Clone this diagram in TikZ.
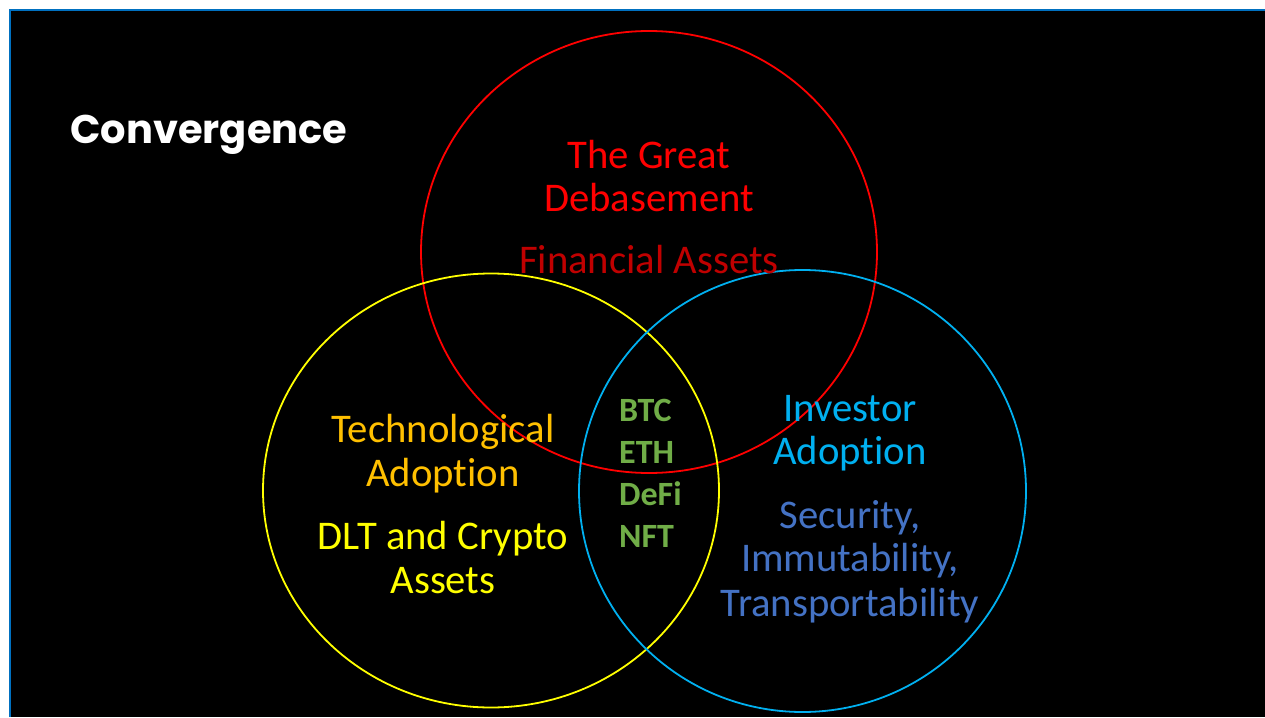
\documentclass[tikz,border=0pt]{standalone}
\usepackage{fontspec}
\setmainfont{Carlito}[Ligatures=NoCommon]
\newfontfamily\titlefont{Poppins}
\definecolor{frameblue}{RGB}{0,112,192}
\definecolor{cred}{RGB}{255,0,0}
\definecolor{cdarkred}{RGB}{192,0,0}
\definecolor{cyel}{RGB}{255,255,0}
\definecolor{corange}{RGB}{255,192,0}
\definecolor{cblue}{RGB}{0,176,240}
\definecolor{cslate}{RGB}{68,114,196}
\definecolor{cgreen}{RGB}{112,173,71}
\tikzset{
  ring/.style={line width=1.8pt},
  lbl/.style={anchor=base,inner sep=0pt,font=\fontsize{40.7}{44}\selectfont},
  coin/.style={anchor=base west,inner sep=0pt,font=\fontsize{34}{40}\selectfont\bfseries,text=cgreen},
}
\begin{document}
\begin{tikzpicture}[x=1pt,y=-1pt]
\useasboundingbox (0,0) rectangle (1265,717);
\fill[black] (10,10) rectangle (1265,717);
\draw[frameblue,line width=1.5pt] (10,717) -- (10,10) -- (1265,10);
% circles
\draw[ring,cred] (649,252) ellipse [x radius=228, y radius=221];
\draw[ring,cyel] (491,490.5) ellipse [x radius=228, y radius=217];
\draw[ring,cblue] (802.5,491) ellipse [x radius=223.5, y radius=221];
% title
\node[anchor=base west,inner sep=0pt,text=white,font=\titlefont\fontsize{40}{44}\selectfont\bfseries] (title) at (70,143) {Convergence};
% red
\node[lbl,text=cred] (r1) at (649,168) {The Great};
\node[lbl,text=cred] (r2) at (649,211) {Debasement};
\node[lbl,text=cdarkred] (r3) at (649,273) {Financial Assets};
% yellow
\node[lbl,text=corange] (y1) at (443,442) {Technological};
\node[lbl,text=corange] (y2) at (443,486) {Adoption};
\node[lbl,text=cyel] (y3) at (443,549) {DLT and Crypto};
\node[lbl,text=cyel] (y4) at (443,593) {Assets};
% blue
\node[lbl,text=cblue] (b1) at (850,421) {Investor};
\node[lbl,text=cblue] (b2) at (850,464) {Adoption};
\node[lbl,text=cslate] (b3) at (850,528) {Security,};
\node[lbl,text=cslate] (b4) at (850,571) {Immutability,};
\node[lbl,text=cslate] (b5) at (850,616) {Transportability};
% centre
\node[coin] (c1) at (619,421) {BTC};
\node[coin] (c2) at (619,463) {ETH};
\node[coin] (c3) at (619,505) {DeFi};
\node[coin] (c4) at (619,547) {NFT};
\end{tikzpicture}
\end{document}
